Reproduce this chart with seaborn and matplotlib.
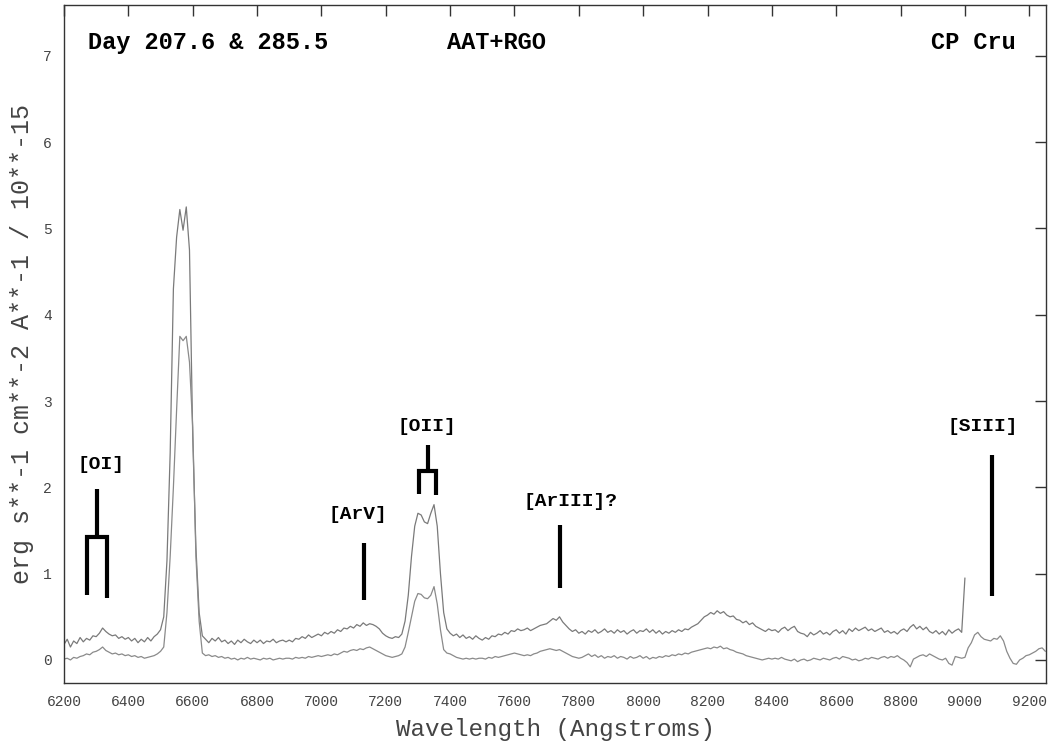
import numpy as np
import pandas as pd
import matplotlib
matplotlib.use("Agg")
import matplotlib.pyplot as plt
import seaborn as sns

# ---------------- data ----------------
# Sample grids (Angstrom), 10 A spacing
WAVE_DAY207 = np.arange(6200, 9001, 10)
WAVE_DAY285 = np.arange(6200, 9251, 10)

# Day 207.6 spectrum (upper), 1e-15 erg/s/cm2/A
FLUX_DAY207 = [
    0.18, 0.24, 0.15, 0.22, 0.19, 0.26, 0.21, 0.25, 0.23, 0.28,
    0.27, 0.31, 0.37, 0.33, 0.30, 0.28, 0.29, 0.25, 0.27, 0.24,
    0.26, 0.22, 0.25, 0.20, 0.24, 0.21, 0.26, 0.22, 0.27, 0.30,
    0.35, 0.50, 1.15, 2.40, 4.30, 4.90, 5.22, 4.98, 5.25, 4.75,
    2.60, 1.30, 0.55, 0.28, 0.24, 0.20, 0.25, 0.22, 0.26, 0.21,
    0.23, 0.19, 0.22, 0.18, 0.23, 0.20, 0.24, 0.21, 0.19, 0.23,
    0.20, 0.23, 0.19, 0.22, 0.21, 0.24, 0.20, 0.22, 0.23, 0.21,
    0.23, 0.21, 0.25, 0.24, 0.27, 0.25, 0.29, 0.26, 0.28, 0.30,
    0.28, 0.32, 0.30, 0.33, 0.31, 0.35, 0.33, 0.37, 0.36, 0.39,
    0.37, 0.41, 0.39, 0.43, 0.40, 0.42, 0.41, 0.39, 0.36, 0.31,
    0.28, 0.26, 0.25, 0.27, 0.26, 0.30, 0.45, 0.75, 1.20, 1.55,
    1.70, 1.68, 1.60, 1.58, 1.70, 1.80, 1.55, 1.00, 0.55, 0.36,
    0.31, 0.28, 0.30, 0.26, 0.29, 0.25, 0.27, 0.24, 0.28, 0.25,
    0.23, 0.26, 0.24, 0.28, 0.27, 0.30, 0.29, 0.32, 0.30, 0.34,
    0.33, 0.36, 0.34, 0.35, 0.37, 0.34, 0.36, 0.38, 0.40, 0.41,
    0.42, 0.45, 0.48, 0.46, 0.50, 0.44, 0.40, 0.36, 0.33, 0.35,
    0.31, 0.33, 0.30, 0.34, 0.32, 0.35, 0.31, 0.33, 0.36, 0.32,
    0.34, 0.31, 0.35, 0.32, 0.34, 0.30, 0.33, 0.35, 0.31, 0.34,
    0.33, 0.36, 0.32, 0.35, 0.31, 0.34, 0.30, 0.33, 0.31, 0.34,
    0.32, 0.35, 0.33, 0.36, 0.35, 0.38, 0.40, 0.42, 0.46, 0.50,
    0.52, 0.55, 0.53, 0.57, 0.54, 0.56, 0.52, 0.50, 0.51, 0.47,
    0.46, 0.43, 0.45, 0.41, 0.43, 0.39, 0.37, 0.35, 0.33, 0.36,
    0.34, 0.35, 0.32, 0.36, 0.38, 0.34, 0.37, 0.39, 0.33, 0.31,
    0.30, 0.27, 0.32, 0.29, 0.31, 0.34, 0.30, 0.32, 0.29, 0.33,
    0.35, 0.31, 0.34, 0.30, 0.36, 0.33, 0.37, 0.34, 0.36, 0.38,
    0.34, 0.36, 0.33, 0.35, 0.37, 0.32, 0.34, 0.31, 0.33, 0.30,
    0.34, 0.36, 0.33, 0.38, 0.41, 0.36, 0.39, 0.35, 0.38, 0.33,
    0.31, 0.34, 0.30, 0.33, 0.29, 0.35, 0.31, 0.34, 0.36, 0.32,
    0.95,
]

# Day 285.5 spectrum (lower)
FLUX_DAY285 = [
    0.01, 0.02, 0.00, 0.03, 0.02, 0.04, 0.05, 0.07, 0.06, 0.09,
    0.10, 0.12, 0.15, 0.11, 0.09, 0.07, 0.08, 0.06, 0.07, 0.05,
    0.06, 0.04, 0.05, 0.03, 0.04, 0.02, 0.03, 0.04, 0.05, 0.07,
    0.10, 0.15, 0.55, 1.20, 2.00, 2.90, 3.75, 3.70, 3.75, 3.45,
    2.70, 1.20, 0.45, 0.08, 0.05, 0.06, 0.04, 0.05, 0.03, 0.04,
    0.02, 0.03, 0.01, 0.02, 0.00, 0.02, 0.01, 0.03, 0.01, 0.02,
    0.01, 0.00, 0.02, 0.01, 0.02, 0.00, 0.01, 0.02, 0.01, 0.02,
    0.02, 0.01, 0.03, 0.02, 0.03, 0.02, 0.04, 0.03, 0.04, 0.05,
    0.04, 0.05, 0.06, 0.05, 0.07, 0.06, 0.08, 0.10, 0.09, 0.11,
    0.12, 0.11, 0.13, 0.12, 0.14, 0.15, 0.13, 0.11, 0.09, 0.07,
    0.05, 0.04, 0.03, 0.04, 0.05, 0.07, 0.15, 0.32, 0.50, 0.68,
    0.77, 0.76, 0.72, 0.71, 0.75, 0.85, 0.65, 0.35, 0.12, 0.08,
    0.07, 0.05, 0.03, 0.02, 0.01, 0.02, 0.01, 0.02, 0.01, 0.02,
    0.02, 0.01, 0.03, 0.02, 0.04, 0.03, 0.04, 0.05, 0.06, 0.07,
    0.08, 0.07, 0.06, 0.05, 0.06, 0.05, 0.07, 0.08, 0.10, 0.11,
    0.12, 0.13, 0.12, 0.11, 0.12, 0.10, 0.08, 0.06, 0.04, 0.03,
    0.02, 0.03, 0.05, 0.07, 0.04, 0.06, 0.03, 0.05, 0.02, 0.04,
    0.03, 0.05, 0.02, 0.04, 0.03, 0.01, 0.04, 0.02, 0.03, 0.05,
    0.02, 0.04, 0.01, 0.03, 0.02, 0.04, 0.03, 0.05, 0.04, 0.06,
    0.05, 0.07, 0.06, 0.08, 0.07, 0.09, 0.10, 0.11, 0.12, 0.13,
    0.14, 0.13, 0.15, 0.14, 0.16, 0.13, 0.14, 0.12, 0.11, 0.09,
    0.08, 0.07, 0.05, 0.04, 0.03, 0.02, 0.01, 0.00, 0.01, 0.02,
    0.01, 0.02, 0.01, 0.03, 0.01, 0.00, -0.01, 0.01, -0.02, 0.00,
    0.01, -0.01, 0.00, 0.02, 0.01, 0.00, 0.02, 0.01, 0.00, 0.02,
    0.03, 0.01, 0.04, 0.03, 0.02, 0.00, 0.01, -0.01, 0.00, 0.02,
    0.01, 0.03, 0.02, 0.01, 0.03, 0.04, 0.02, 0.04, 0.03, 0.05,
    0.02, 0.00, -0.03, -0.08, 0.01, 0.03, 0.05, 0.06, 0.04, 0.07,
    0.05, 0.03, 0.01, 0.00, 0.02, -0.04, -0.06, 0.04, 0.03, 0.02,
    0.03, 0.14, 0.20, 0.29, 0.32, 0.27, 0.24, 0.23, 0.22, 0.25,
    0.24, 0.28, 0.22, 0.10, 0.02, -0.04, -0.05, 0.00, 0.02, 0.05,
    0.06, 0.08, 0.10, 0.13, 0.14, 0.10,
]

# Line identifications
LINE_LABELS = ["[OI]", "[ArV]", "[OII]", "[ArIII]?", "[SIII]"]
LABEL_X = [6315, 7114, 7328, 7775, 9055]
LABEL_Y = [2.26, 1.69, 2.71, 1.84, 2.71]
# simple markers: (wavelength, y_bottom, y_top)
SINGLE_MARKS = [(7132, 0.70, 1.35), (7743, 0.83, 1.56), (9084, 0.74, 2.38)]
# doublet brackets: (left wl, right wl, stem wl, y_left_bottom, y_right_bottom, y_bar, y_stem_top)
DOUBLET_MARKS = [(6272, 6335, 6302, 0.75, 0.72, 1.43, 1.98),
                 (7303, 7355, 7331, 1.92, 1.91, 2.19, 2.49)]

HEADER_LEFT = "Day 207.6 & 285.5"
HEADER_MID = "AAT+RGO"
HEADER_RIGHT = "CP Cru"
XLABEL = "Wavelength (Angstroms)"
YLABEL = "erg s**-1 cm**-2 A**-1 / 10**-15"
XTICKS = list(range(6200, 9201, 200))
YTICKS = list(range(0, 8))

# ---------------- plotting ----------------
sns.set_theme(style="white")
plt.rcParams["font.family"] = ["Liberation Mono", "DejaVu Sans Mono"]

fig = plt.figure(figsize=(10.49, 7.45), dpi=100)
ax = fig.add_axes([64 / 1049, 1 - 683 / 745, (1046 - 64) / 1049, (683 - 5) / 745])

df207 = pd.DataFrame({"wave": WAVE_DAY207, "flux": FLUX_DAY207})
df285 = pd.DataFrame({"wave": WAVE_DAY285, "flux": FLUX_DAY285})
sns.lineplot(data=df207, x="wave", y="flux", ax=ax, color="#7a7a7a",
             lw=0.9, estimator=None, sort=False)
sns.lineplot(data=df285, x="wave", y="flux", ax=ax, color="#8a8a8a",
             lw=0.9, estimator=None, sort=False)

ax.set_xlim(6200, 9252)
ax.set_ylim(-0.267, 7.59)
ax.set_xticks(XTICKS)
ax.set_yticks(YTICKS)
ax.tick_params(axis="both", which="major", direction="in", length=8, width=1,
               color="#333333", top=True, right=True, labelsize=10.5,
               labelcolor="#444444", pad=9)
for sp in ax.spines.values():
    sp.set_color("#333333")
    sp.set_linewidth(1.0)

ax.set_xlabel(XLABEL, fontsize=17.5, color="#444444", labelpad=6)
ax.set_ylabel(YLABEL, fontsize=18, color="#444444", labelpad=6)

# header texts
hdr = dict(fontsize=17, fontweight="bold", color="black", va="center",
           transform=ax.transAxes)
ax.text(24 / 982, 1 - 37 / 678, HEADER_LEFT, ha="left", **hdr)
ax.text(383 / 982, 1 - 37 / 678, HEADER_MID, ha="left", **hdr)
ax.text(909 / 982, 1 - 37 / 678, HEADER_RIGHT, ha="center", **hdr)

# line identification labels
for lab, lx, ly in zip(LINE_LABELS, LABEL_X, LABEL_Y):
    ax.text(lx, ly, lab, fontsize=14, fontweight="bold", color="black",
            ha="center", va="center")

for wl, y0, y1 in SINGLE_MARKS:
    ax.plot([wl, wl], [y0, y1], color="black", lw=3, solid_capstyle="butt")

for xl, xr, xs, yl, yr, yb, yt in DOUBLET_MARKS:
    ax.plot([xl, xl, xr, xr], [yl, yb, yb, yr], color="black", lw=3,
            solid_capstyle="butt", solid_joinstyle="miter")
    ax.plot([xs, xs], [yb, yt], color="black", lw=3, solid_capstyle="butt")

fig.savefig("out.png", dpi=100)
